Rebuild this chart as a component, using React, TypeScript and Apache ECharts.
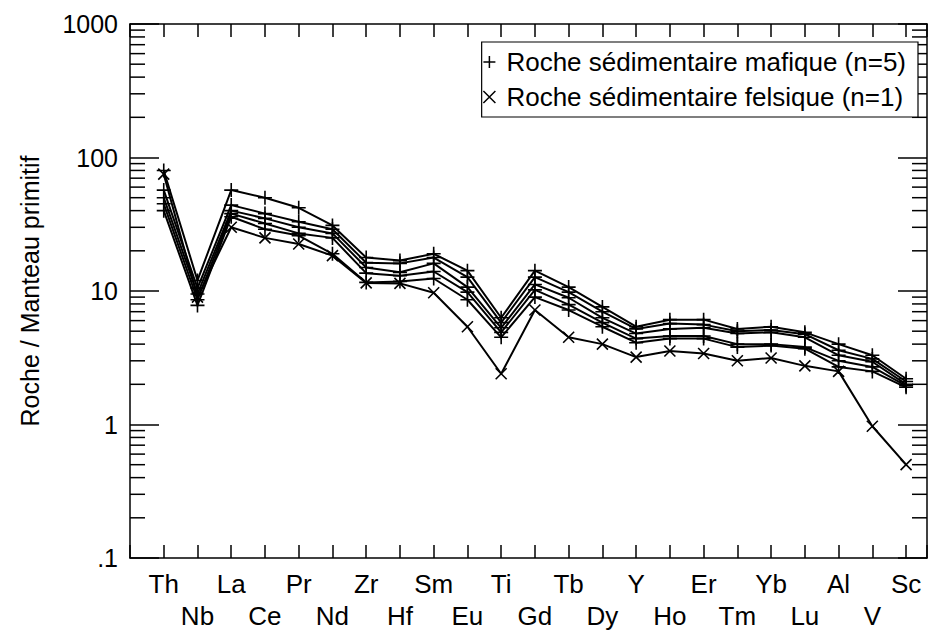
import React, { useEffect, useRef } from 'react';
import * as echarts from 'echarts';

const elements = ['Th', 'Nb', 'La', 'Ce', 'Pr', 'Nd', 'Zr', 'Hf', 'Sm', 'Eu', 'Ti', 'Gd', 'Tb', 'Dy', 'Y', 'Ho', 'Er', 'Tm', 'Yb', 'Lu', 'Al', 'V', 'Sc'];

const mafic1 = [80, 12, 57, 50, 42, 31, 17.8, 16.9, 19, 14.2, 6.3, 14.2, 10.7, 7.6, 5.4, 6.1, 6.1, 5.2, 5.4, 4.9, 4.0, 3.3, 2.2];
const mafic2 = [57, 10.5, 44, 38, 33, 29, 16.3, 16.1, 17.8, 12.7, 5.8, 12.7, 9.8, 7.0, 5.2, 5.7, 5.6, 5.0, 5.1, 4.75, 3.6, 3.1, 2.1];
const mafic3 = [50, 9.5, 40, 35, 30, 27, 15.0, 13.8, 16.1, 10.7, 5.3, 11.2, 8.9, 6.3, 4.8, 5.2, 5.3, 4.8, 4.9, 4.5, 3.3, 2.95, 2.0];
const mafic4 = [45, 8.6, 38, 32, 27, 25, 13.6, 13.0, 14.0, 9.8, 4.9, 10.2, 7.9, 5.8, 4.4, 4.6, 4.6, 4.0, 4.0, 3.8, 3.0, 2.7, 1.95];
const mafic5 = [40, 7.8, 36, 29, 26, 19, 11.6, 11.8, 12.4, 8.6, 4.5, 9.0, 7.2, 5.4, 4.1, 4.4, 4.4, 3.8, 3.9, 3.7, 2.7, 2.5, 1.9];
const felsic = [75, 9, 30, 25, 22.5, 18.4, 11.5, 11.4, 9.7, 5.4, 2.4, 7.2, 4.5, 4.0, 3.2, 3.55, 3.4, 3.0, 3.15, 2.75, 2.5, 0.97, 0.5];

const yTickLabels = ['.1', '1', '10', '100', '1000'];
const minorTickValues = [
  0.2, 0.3, 0.4, 0.5, 0.6, 0.7, 0.8, 0.9,
  2, 3, 4, 5, 6, 7, 8, 9,
  20, 30, 40, 50, 60, 70, 80, 90,
  200, 300, 400, 500, 600, 700, 800, 900,
];

const MAFIC_NAME = 'Roche sédimentaire mafique (n=5)';
const FELSIC_NAME = 'Roche sédimentaire felsique (n=1)';
const PLUS = 'path://M0,5L10,5M5,0L5,10';
const CROSS = 'path://M0,0L10,10M10,0L0,10';
const FONT = '"Liberation Sans", Arial, sans-serif';

export default function App() {
  const ref = useRef<HTMLDivElement>(null);
  useEffect(() => {
    if (!ref.current) return;
    const chart = echarts.init(ref.current, undefined, { renderer: 'svg' });
    const xLabel = (v: number) => {
      const i = Math.round(v);
      if (Math.abs(v - i) > 1e-6 || i < 0 || i >= elements.length) return '';
      return i % 2 === 0 ? elements[i] : '\n' + elements[i];
    };
    const axisLineStyle = { color: '#000', width: 1.5 };
    const xBase = {
      type: 'value' as const,
      min: -1,
      max: 22.62,
      interval: 1,
      axisLine: { show: true, onZero: false, lineStyle: axisLineStyle },
      axisTick: { show: true, inside: true, length: 13, lineStyle: axisLineStyle },
      splitLine: { show: false },
    };
    const yBase = {
      type: 'log' as const,
      logBase: 10,
      min: 0.1,
      max: 1000,
      axisLine: { show: true, onZero: false, lineStyle: axisLineStyle },
      axisTick: { show: true, inside: true, length: 29, lineStyle: axisLineStyle },
      splitLine: { show: false },
    };
    const mafics = [mafic1, mafic2, mafic3, mafic4, mafic5];
    const lineSeries: any[] = mafics.map((arr) => ({
      type: 'line',
      name: MAFIC_NAME,
      xAxisIndex: 0,
      yAxisIndex: 0,
      data: arr.map((v, i) => [i, v]),
      symbol: PLUS,
      symbolSize: 14,
      lineStyle: { color: '#000', width: 2 },
      itemStyle: { color: '#000', borderColor: '#000', borderWidth: 1.6 },
      emphasis: { disabled: true },
    }));
    lineSeries.push({
      type: 'line',
      name: FELSIC_NAME,
      xAxisIndex: 0,
      yAxisIndex: 0,
      data: felsic.map((v, i) => [i, v]),
      symbol: CROSS,
      symbolSize: 11,
      lineStyle: { color: '#000', width: 2 },
      itemStyle: { color: '#000', borderColor: '#000', borderWidth: 1.6 },
      emphasis: { disabled: true },
    });
    lineSeries.push({
      type: 'custom',
      name: 'minorTicks',
      xAxisIndex: 0,
      yAxisIndex: 0,
      silent: true,
      clip: false,
      data: minorTickValues.map((v) => [-1, v]),
      encode: { x: 0, y: 1 },
      renderItem: (params: any, api: any) => {
        const p = api.coord([-1, api.value(1)]);
        const cs = params.coordSys;
        const len = 15;
        const st = { stroke: '#000', lineWidth: 1.5 };
        return {
          type: 'group',
          children: [
            { type: 'line', shape: { x1: cs.x, y1: p[1], x2: cs.x + len, y2: p[1] }, style: st },
            { type: 'line', shape: { x1: cs.x + cs.width - len, y1: p[1], x2: cs.x + cs.width, y2: p[1] }, style: st },
          ],
        };
      },
    });

    chart.setOption({
      animation: false,
      backgroundColor: '#fff',
      textStyle: { fontFamily: FONT, color: '#000' },
      grid: { left: 130, top: 24, width: 798, height: 544, containLabel: false },
      legend: {
        right: 12,
        top: 42,
        orient: 'vertical',
        padding: [7, 12, 7, 1],
        itemGap: 9,
        itemWidth: 24,
        itemHeight: 12,
        symbolKeepAspect: true,
        borderColor: '#000',
        borderWidth: 1.2,
        backgroundColor: '#fff',
        textStyle: { fontSize: 26, color: '#000', fontFamily: FONT },
        itemStyle: { color: '#000', borderColor: '#000', borderWidth: 1.5 },
        data: [
          { name: MAFIC_NAME, icon: PLUS },
          { name: FELSIC_NAME, icon: CROSS },
        ],
        selectedMode: false,
      },
      xAxis: [
        {
          ...xBase,
          position: 'bottom',
          axisLabel: { show: true, formatter: xLabel, color: '#000', fontSize: 26, lineHeight: 32, margin: 10, fontFamily: FONT },
        },
        { ...xBase, position: 'top', axisLabel: { show: false } },
      ],
      yAxis: [
        {
          ...yBase,
          position: 'left',
          name: 'Roche / Manteau primitif',
          nameLocation: 'middle',
          nameGap: 88,
          nameTextStyle: { fontSize: 25, color: '#000', fontFamily: FONT },
          axisLabel: {
            show: true,
            color: '#000',
            fontSize: 25,
            margin: 12,
            fontFamily: FONT,
            formatter: (v: number) => yTickLabels[Math.round(Math.log10(v)) + 1] ?? '',
          },
        },
        { ...yBase, position: 'right', axisLabel: { show: false } },
      ],
      series: lineSeries,
    });
    return () => chart.dispose();
  }, []);
  return <div ref={ref} style={{ position: 'fixed', left: 0, top: 0, width: 930, height: 632 }} />;
}
